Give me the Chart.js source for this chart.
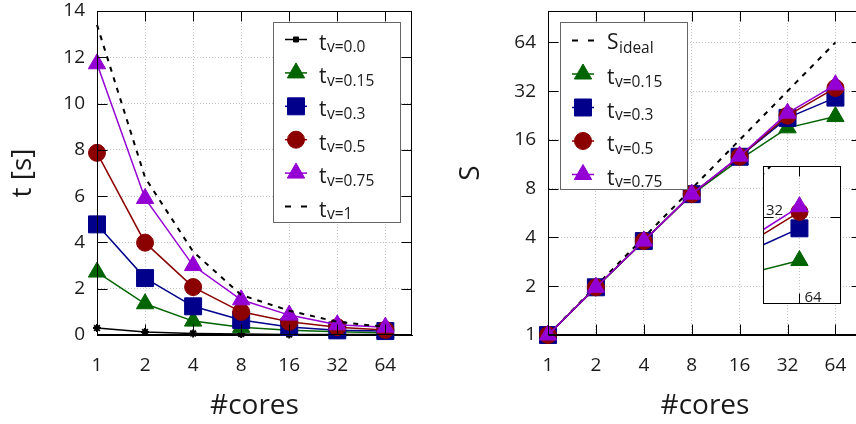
<!DOCTYPE html>
<html><head><meta charset="utf-8">
<script src="https://cdn.jsdelivr.net/npm/chart.js@4"></script>
<style>
html,body{margin:0;padding:0;background:#fff;}
#wrap{position:relative;width:856px;height:424px;overflow:hidden;background:#fff;}
canvas{position:absolute;}
</style></head><body>
<div id="wrap">
<canvas id="c1" width="430" height="424" style="left:0;top:0"></canvas>
<canvas id="c2" width="452" height="424" style="left:430px;top:0"></canvas>
<canvas id="c3" width="78" height="138" style="left:763px;top:166px"></canvas>
</div>
<script>
// ---- data ----
const cores = [1, 2, 4, 8, 16, 32, 64];
// run time t [s]
const tV00  = [0.30, 0.13, 0.07, 0.04, 0.02, 0.02, 0.02];
const tV015 = [2.72, 1.35, 0.60, 0.33, 0.20, 0.14, 0.10];
const tV03  = [4.78, 2.46, 1.24, 0.65, 0.35, 0.20, 0.17];
const tV05  = [7.87, 3.99, 2.07, 1.00, 0.57, 0.34, 0.22];
const tV075 = [11.72, 5.90, 3.00, 1.52, 0.86, 0.44, 0.34];
const tV1   = [13.4, 6.8, 3.6, 1.73, 1.05, 0.57, 0.35];
// speedup S
const sIdeal = [1, 2, 4, 8, 16, 32, 64];
const sV015 = [1, 1.96, 3.8, 7.35, 12.1, 19.0, 22.3];
const sV03  = [1, 1.97, 3.8, 7.4, 12.6, 21.9, 29.2];
const sV05  = [1, 1.97, 3.8, 7.4, 12.6, 22.6, 33.5];
const sV075 = [1, 1.97, 3.8, 7.4, 12.7, 23.4, 35.0];
// ticks
const tTicks = [0, 2, 4, 6, 8, 10, 12, 14];
const sTicks = [1, 2, 4, 8, 16, 32, 64];
const insetXTicks = [64];
const insetYTicks = [32];
// legend labels [main, subscript]
const leftLabels = [['t','v=0.0'],['t','v=0.15'],['t','v=0.3'],['t','v=0.5'],['t','v=0.75'],['t','v=1']];
const rightLabels = [['S','ideal'],['t','v=0.15'],['t','v=0.3'],['t','v=0.5'],['t','v=0.75']];

// ---- styles ----
const FONT = "'Open Sans', 'Noto Sans', sans-serif";
const TXT = '#1a1a1a';
const BLACK = '#000000', GREEN = '#006400', BLUE = '#00008b', RED = '#8b0000', PURPLE = '#9400d3';
const GRID = '#c4c4c4';
const TICK_FONT = {family: FONT, size: 19};
const TITLE_FONT = {family: FONT, size: 28};

function pts(ys) { return cores.map((c, i) => ({x: c, y: ys[i]})); }
function ds(label, ys, color, style, radius, order, extra) {
  return Object.assign({
    label, data: pts(ys), borderColor: color, backgroundColor: color,
    pointBackgroundColor: color, pointBorderColor: color, pointStyle: style,
    pointRadius: radius, pointHoverRadius: radius, pointBorderWidth: 1,
    borderWidth: 1.5, tension: 0, fill: false, order, clip: false
  }, extra || {});
}

const framePlugin = {
  id: 'frame',
  afterDraw(chart) {
    const {ctx, chartArea: a, scales: {x, y}} = chart;
    const L = 10;
    ctx.save();
    ctx.strokeStyle = '#000'; ctx.lineWidth = 1; ctx.setLineDash([]);
    const l = Math.round(a.left) + 0.5, r = Math.round(a.right) - 0.5;
    const t = Math.round(a.top) + 0.5, b = Math.round(a.bottom) - 0.5;
    ctx.strokeRect(l, t, r - l, b - t);
    ctx.beginPath();
    x.ticks.forEach(tk => {
      const px = Math.round(x.getPixelForValue(tk.value)) + 0.5;
      ctx.moveTo(px, t); ctx.lineTo(px, t + L);
      ctx.moveTo(px, b); ctx.lineTo(px, b - L);
    });
    y.ticks.forEach(tk => {
      const py = Math.round(y.getPixelForValue(tk.value)) + 0.5;
      ctx.moveTo(l, py); ctx.lineTo(l + L, py);
      ctx.moveTo(r, py); ctx.lineTo(r - L, py);
    });
    ctx.stroke();
    ctx.restore();
  }
};

function makeLegend(cfg) {
  return {
    id: 'boxLegend',
    afterDraw(chart) {
      const ctx = chart.ctx;
      ctx.save();
      ctx.fillStyle = '#fff'; ctx.fillRect(cfg.x, cfg.y, cfg.w, cfg.h);
      ctx.strokeStyle = '#666'; ctx.lineWidth = 1; ctx.strokeRect(cfg.x + 0.5, cfg.y + 0.5, cfg.w, cfg.h);
      cfg.items.forEach((it, i) => {
        const yy = cfg.y0 + i * cfg.step;
        ctx.strokeStyle = it.color; ctx.lineWidth = it.lw; ctx.setLineDash(it.dash || []);
        ctx.beginPath(); ctx.moveTo(cfg.x1, yy); ctx.lineTo(cfg.x2, yy); ctx.stroke();
        ctx.setLineDash([]);
        if (it.style) {
          ctx.fillStyle = it.color; ctx.strokeStyle = it.color; ctx.lineWidth = 1;
          Chart.helpers.drawPoint(ctx, {pointStyle: it.style, radius: it.radius, rotation: 0, borderWidth: 1}, (cfg.x1 + cfg.x2) / 2, yy);
        }
        ctx.fillStyle = TXT; ctx.textAlign = 'left'; ctx.textBaseline = 'alphabetic';
        ctx.font = '21px ' + FONT;
        ctx.fillText(it.label[0], cfg.tx, yy + it.mo);
        const w = ctx.measureText(it.label[0]).width;
        ctx.font = '15.5px ' + FONT;
        ctx.fillText(it.label[1], cfg.tx + w + 0.5, yy + it.so);
      });
      ctx.restore();
    }
  };
}

function logScaleTicks(vals) { return s => { s.ticks = vals.map(v => ({value: v})); }; }

function xAxis() {
  return {
    type: 'logarithmic', min: 1, max: 94,
    afterBuildTicks: logScaleTicks(cores),
    ticks: {callback: v => String(v), font: TICK_FONT, color: TXT, padding: 19, maxRotation: 0, autoSkip: false},
    grid: {color: GRID, lineWidth: 1, drawTicks: false},
    border: {display: true, color: '#000', dash: [1, 2]},
    title: {display: true, text: '#cores', font: TITLE_FONT, color: TXT, padding: {top: 0, bottom: 1}},
    afterFit: s => { s.height = 89; s.paddingLeft = 0; s.paddingRight = 0; }
  };
}

// ---- left chart: time ----
new Chart(document.getElementById('c1'), {
  type: 'line',
  data: {datasets: [
    ds(leftLabels[0].join(''), tV00, BLACK, 'star', 4, 6, {pointBorderWidth: 2}),
    ds(leftLabels[1].join(''), tV015, GREEN, 'triangle', 10, 5),
    ds(leftLabels[2].join(''), tV03, BLUE, 'rect', 12, 4),
    ds(leftLabels[3].join(''), tV05, RED, 'circle', 8.5, 3),
    ds(leftLabels[4].join(''), tV075, PURPLE, 'triangle', 10, 2),
    ds(leftLabels[5].join(''), tV1, BLACK, false, 0, 1, {borderDash: [5, 6], borderWidth: 2, pointRadius: 0})
  ]},
  options: {
    responsive: false, animation: false, events: [],
    layout: {padding: {left: 0, top: 11, right: 18, bottom: 0}, autoPadding: false},
    plugins: {legend: {display: false}, tooltip: {enabled: false}},
    scales: {
      x: xAxis(),
      y: {
        type: 'linear', min: 0, max: 14,
        afterBuildTicks: s => { s.ticks = tTicks.map(v => ({value: v})); },
        ticks: {font: TICK_FONT, color: TXT, padding: 12},
        grid: {color: GRID, lineWidth: 1, drawTicks: false},
        border: {display: true, color: '#000', dash: [1, 2]},
        title: {display: true, text: 't [s]', font: TITLE_FONT, color: TXT, padding: {top: 6, bottom: 0}},
        afterFit: s => { s.width = 97; s.paddingTop = 0; s.paddingBottom = 0; }
      }
    }
  },
  plugins: [framePlugin, makeLegend({
    x: 273, y: 22, w: 127, h: 200, x1: 285, x2: 307, tx: 319, y0: 39.5, step: 33.4,
    items: [
      {label: leftLabels[0], color: BLACK, lw: 1.5, style: 'rect', radius: 3.5, mo: 10, so: 12.7},
      {label: leftLabels[1], color: GREEN, lw: 1.5, style: 'triangle', radius: 10, mo: 10, so: 12.7},
      {label: leftLabels[2], color: BLUE, lw: 1.5, style: 'rect', radius: 12, mo: 10, so: 12.7},
      {label: leftLabels[3], color: RED, lw: 1.5, style: 'circle', radius: 8.5, mo: 10, so: 12.7},
      {label: leftLabels[4], color: PURPLE, lw: 1.5, style: 'triangle', radius: 10, mo: 10, so: 12.7},
      {label: leftLabels[5], color: BLACK, lw: 2, dash: [6, 10], style: null, mo: 10, so: 12.7}
    ]
  })]
});

// ---- right chart: speedup ----
new Chart(document.getElementById('c2'), {
  type: 'line',
  data: {datasets: [
    ds(rightLabels[0].join(''), sIdeal, BLACK, false, 0, 6, {borderDash: [5, 6], borderWidth: 2, pointRadius: 0}),
    ds(rightLabels[1].join(''), sV015, GREEN, 'triangle', 10, 5),
    ds(rightLabels[2].join(''), sV03, BLUE, 'rect', 12, 4),
    ds(rightLabels[3].join(''), sV05, RED, 'circle', 8.5, 3),
    ds(rightLabels[4].join(''), sV075, PURPLE, 'triangle', 10, 2)
  ]},
  options: {
    responsive: false, animation: false, events: [],
    layout: {padding: {left: 0, top: 11, right: 20, bottom: 0}, autoPadding: false},
    plugins: {legend: {display: false}, tooltip: {enabled: false}},
    scales: {
      x: xAxis(),
      y: {
        type: 'logarithmic', min: 1, max: 100,
        afterBuildTicks: logScaleTicks(sTicks),
        ticks: {callback: v => String(v), font: TICK_FONT, color: TXT, padding: 12},
        grid: {color: GRID, lineWidth: 1, drawTicks: false},
        border: {display: true, color: '#000', dash: [1, 2]},
        title: {display: true, text: 'S', font: TITLE_FONT, color: TXT, padding: {top: 24.7, bottom: 0}},
        afterFit: s => { s.width = 118; s.paddingTop = 0; s.paddingBottom = 0; }
      }
    }
  },
  plugins: [framePlugin, makeLegend({
    x: 130, y: 22, w: 127, h: 167, x1: 142, x2: 164, tx: 177, y0: 40.5, step: 33.5,
    items: [
      {label: rightLabels[0], color: BLACK, lw: 2, dash: [6, 10], style: null, mo: 8, so: 12},
      {label: rightLabels[1], color: GREEN, lw: 1.5, style: 'triangle', radius: 10, mo: 10, so: 12.7},
      {label: rightLabels[2], color: BLUE, lw: 1.5, style: 'rect', radius: 12, mo: 10, so: 12.7},
      {label: rightLabels[3], color: RED, lw: 1.5, style: 'circle', radius: 8.5, mo: 10, so: 12.7},
      {label: rightLabels[4], color: PURPLE, lw: 1.5, style: 'triangle', radius: 10, mo: 10, so: 12.7}
    ]
  })]
});

// ---- inset: zoom on 64 cores ----
const insetBg = {
  id: 'insetBg',
  beforeDraw(chart) {
    const ctx = chart.ctx;
    ctx.save(); ctx.fillStyle = '#fff'; ctx.fillRect(0, 0, chart.width, chart.height); ctx.restore();
  },
  afterDraw(chart) {
    const {ctx, chartArea: a, scales: {x, y}} = chart;
    ctx.save();
    ctx.fillStyle = TXT; ctx.font = '15px ' + FONT; ctx.textBaseline = 'alphabetic';
    ctx.textAlign = 'left';
    ctx.fillText(String(insetYTicks[0]), a.left + 3, y.getPixelForValue(insetYTicks[0]) - 2);
    ctx.fillText(String(insetXTicks[0]), x.getPixelForValue(insetXTicks[0]) + 5, a.bottom - 2);
    ctx.restore();
  }
};
function insetDs(label, ys, color, style, radius, order) {
  const d = ds(label, ys, color, style, radius, order);
  delete d.clip;
  return d;
}
new Chart(document.getElementById('c3'), {
  type: 'line',
  data: {datasets: [
    insetDs(rightLabels[0].join(''), sIdeal, BLACK, false, 0, 6),
    insetDs(rightLabels[1].join(''), sV015, GREEN, 'triangle', 10, 5),
    insetDs(rightLabels[2].join(''), sV03, BLUE, 'rect', 12, 4),
    insetDs(rightLabels[3].join(''), sV05, RED, 'circle', 8.5, 3),
    insetDs(rightLabels[4].join(''), sV075, PURPLE, 'triangle', 10, 2)
  ].map((d, i) => i === 0 ? Object.assign(d, {borderDash: [5, 6], borderWidth: 2, pointRadius: 0}) : d)},
  options: {
    responsive: false, animation: false, events: [],
    layout: {padding: 0, autoPadding: false},
    plugins: {legend: {display: false}, tooltip: {enabled: false}},
    scales: {
      x: {type: 'logarithmic', min: 45.9, max: 93.5, afterBuildTicks: logScaleTicks(insetXTicks),
          ticks: {display: false}, grid: {color: GRID, drawTicks: false}, border: {display: true, color: '#000', dash: [1, 2]},
          afterFit: s => { s.height = 0; s.paddingLeft = 0; s.paddingRight = 0; }},
      y: {type: 'logarithmic', min: 15.5, max: 49.2, afterBuildTicks: logScaleTicks(insetYTicks),
          ticks: {display: false}, grid: {color: GRID, drawTicks: false}, border: {display: true, color: '#000', dash: [1, 2]},
          afterFit: s => { s.width = 0; s.paddingTop = 0; s.paddingBottom = 0; }}
    }
  },
  plugins: [insetBg, framePlugin]
});
</script>
</body></html>
